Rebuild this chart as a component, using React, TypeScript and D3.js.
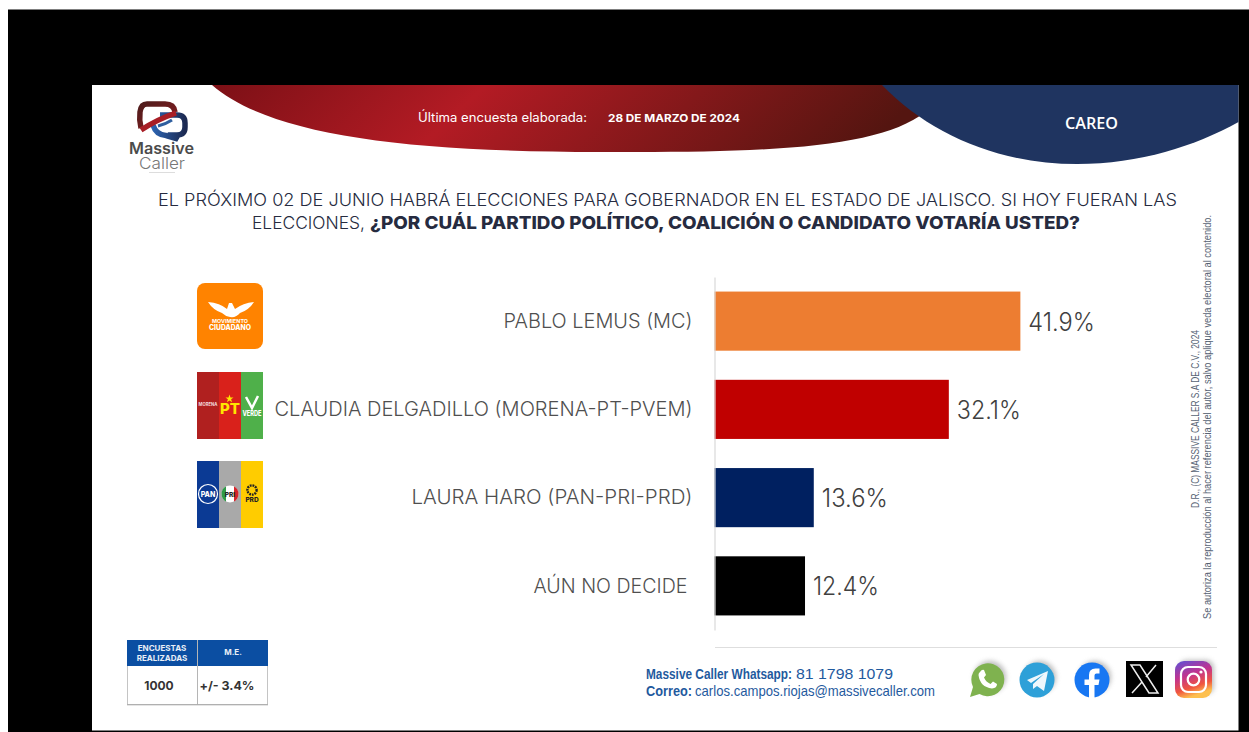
import React, { useEffect, useRef } from "react";
import * as d3 from "d3";

const categories = [
  "PABLO LEMUS (MC)",
  "CLAUDIA DELGADILLO (MORENA-PT-PVEM)",
  "LAURA HARO (PAN-PRI-PRD)",
  "AÚN NO DECIDE",
];
const values = [41.9, 32.1, 13.6, 12.4];
const barColors = ["#ed7d31", "#c00000", "#002060", "#000000"];
const labelWidths = [189, 418, 281, 154];
const labelShift = [0, 0, 0, -5];
const valueWidths = [66.5, 64, 66, 66];

const FONT = "Inter, 'Noto Sans', sans-serif";

const x = d3.scaleLinear().domain([0, 50]).range([714.5, 1079.5]);
const y = d3.scaleBand<string>().domain(categories).range([277, 630]).paddingInner(0.33).paddingOuter(0.165);

function Axis() {
  const ref = useRef<SVGGElement>(null);
  useEffect(() => {
    const g = d3.select(ref.current);
    g.call(d3.axisLeft(y).tickSize(0).tickPadding(22) as any);
    g.select(".domain").attr("stroke", "#d9d9d9").attr("stroke-width", 1.2);
    g.selectAll<SVGTextElement, string>(".tick text")
      .attr("font-family", FONT)
      .attr("font-size", 19.5)
      .attr("font-weight", 300)
      .attr("fill", "#4f4f4f")
      .attr("x", (_, i) => -22 + labelShift[i])
      .attr("y", 0.5)
      .attr("textLength", (_, i) => labelWidths[i])
      .attr("lengthAdjust", "spacingAndGlyphs");
  }, []);
  return <g ref={ref} transform="translate(714.5,0)" />;
}

function Header() {
  return (
    <g>
      <path d="M212,85 C268,134 400,152 600,152 C770,153 880,148 925,112 L885,85 Z" fill="url(#redGrad)" />
      <path d="M882,85 C930,135 1000,164 1077,164 C1140,164 1195,146 1238.5,122 L1238.5,85 Z" fill="#1f3460" />
      <text x={418} y={122} fill="#fff" fontFamily={FONT} fontSize={12.5} textLength={169} lengthAdjust="spacingAndGlyphs">Última encuesta elaborada:</text>
      <text x={608} y={122} fill="#fff" fontFamily={FONT} fontWeight={700} fontSize={11} textLength={132} lengthAdjust="spacingAndGlyphs">28 DE MARZO DE 2024</text>
      <text x={1065} y={129} fill="#fff" fontFamily="'Open Sans', sans-serif" fontWeight={600} fontSize={16} textLength={53} lengthAdjust="spacingAndGlyphs">CAREO</text>
    </g>
  );
}

function Logo() {
  return (
    <g fill="none">
      <path d="M147,104 H165 Q174,104 175,112 M141,128 Q139,120 140,112 Q141,104 147,104" stroke="url(#logoRed)" strokeWidth={5.5} />
      <path d="M160,115 H177 Q185,115 185,123 V127 Q185,135 177,135 H174 L178,139 L166,135.5 Q156,135 153,125" stroke="url(#logoBlue)" strokeWidth={5.5} />
      <path d="M141,130 Q158,119 176,113" stroke="#a81e26" strokeWidth={5.5} />
      <path d="M158,126 Q166,124 172,120" stroke="#2f5f9f" strokeWidth={3} />
      <text x={129} y={154} fill="#4b4b4b" fontFamily={FONT} fontWeight={600} fontSize={15.5} textLength={65} lengthAdjust="spacingAndGlyphs">Massive</text>
      <text x={139} y={169} fill="#777" fontFamily={FONT} fontWeight={300} fontSize={16.5} textLength={46} lengthAdjust="spacingAndGlyphs">Caller</text>
      <line x1={149} x2={175} y1={172.5} y2={172.5} stroke="#ddd" strokeWidth={1} />
    </g>
  );
}

function Question() {
  const c = "#262b40";
  return (
    <g fontFamily={FONT} fontSize={17.5} fill={c}>
      <text x={158} y={206} fontWeight={300} textLength={1019} lengthAdjust="spacingAndGlyphs">EL PRÓXIMO 02 DE JUNIO HABRÁ ELECCIONES PARA GOBERNADOR EN EL ESTADO DE JALISCO. SI HOY FUERAN LAS</text>
      <text x={252} y={229} fontWeight={300} textLength={113} lengthAdjust="spacingAndGlyphs">ELECCIONES,</text>
      <text x={370} y={229} fontWeight={800} textLength={710} lengthAdjust="spacingAndGlyphs">¿POR CUÁL PARTIDO POLÍTICO, COALICIÓN O CANDIDATO VOTARÍA USTED?</text>
    </g>
  );
}

function PartyTiles() {
  return (
    <g fontFamily={FONT}>
      <rect x={197} y={283} width={66} height={66} rx={8} fill="#ff8300" />
      <path d="M208,302 Q220,303 227,309 L229,303 L232,303 L235,309 Q243,303 254,302 Q249,310 240,313 Q236,318 230,317 Q225,316 222,313 Q213,310 208,302 Z" fill="#fff" />
      <text x={230} y={322.5} textAnchor="middle" fill="#fff" fontSize={5} fontWeight={700} textLength={36} lengthAdjust="spacingAndGlyphs">MOVIMIENTO</text>
      <text x={230} y={329.5} textAnchor="middle" fill="#fff" fontSize={7} fontWeight={800} textLength={42} lengthAdjust="spacingAndGlyphs">CIUDADANO</text>

      <rect x={197} y={372} width={22} height={67} fill="#b0201f" />
      <rect x={219} y={372} width={22} height={67} fill="#d9211b" />
      <rect x={241} y={372} width={22} height={67} fill="#4fb04a" />
      <text x={208} y={406} textAnchor="middle" fill="#f3dcdc" fontSize={5} fontWeight={700} textLength={19} lengthAdjust="spacingAndGlyphs">MORENA</text>
      <path d="M229.5,394.5 l1,3 h3 l-2.4,1.8 l1,3 l-2.6,-1.9 l-2.6,1.9 l1,-3 l-2.4,-1.8 h3 Z" fill="#ffe600" />
      <text x={230} y={414} textAnchor="middle" fill="#ffe600" fontSize={15} fontWeight={800}>PT</text>
      <path d="M246,397 L252,408 L258,396" stroke="#fff" strokeWidth={2.5} fill="none" />
      <text x={252} y={416} textAnchor="middle" fill="#fff" fontSize={7.5} fontWeight={800} textLength={19} lengthAdjust="spacingAndGlyphs">VERDE</text>

      <rect x={197} y={461} width={22} height={67} fill="#0b3a94" />
      <rect x={219} y={461} width={22} height={67} fill="#a9a9a9" />
      <rect x={241} y={461} width={22} height={67} fill="#ffcc00" />
      <circle cx={208} cy={494} r={9.5} fill="#0b3a94" stroke="#fff" strokeWidth={1.2} />
      <text x={208} y={497} textAnchor="middle" fill="#fff" fontSize={7} fontWeight={800}>PAN</text>
      <circle cx={230} cy={494} r={8.5} fill="#fff" />
      <path d="M226,486.5 A8.5,8.5 0 0 0 226,501.5 Z" fill="#2e9b47" />
      <path d="M234,486.5 A8.5,8.5 0 0 1 234,501.5 Z" fill="#d7232b" />
      <text x={230} y={496.5} textAnchor="middle" fill="#222" fontSize={6.5} fontWeight={800}>PRI</text>
      <circle cx={252} cy={490} r={4.6} fill="none" stroke="#222" strokeWidth={2.4} strokeDasharray="1.8 0.9" />
      <text x={252} y={502} textAnchor="middle" fill="#222" fontSize={6.5} fontWeight={800}>PRD</text>
    </g>
  );
}

function Bars() {
  return (
    <g>
      {categories.map((c, i) => (
        <g key={c}>
          <rect x={x(0)} y={y(c)} width={x(values[i]) - x(0)} height={y.bandwidth()} fill={barColors[i]} />
          <text
            x={x(values[i]) + 8}
            y={(y(c) as number) + y.bandwidth() / 2 + 9.5}
            fontFamily={FONT}
            fontWeight={300}
            fontSize={25}
            fill="#404040"
            textLength={valueWidths[i]}
            lengthAdjust="spacingAndGlyphs"
          >
            {values[i].toFixed(1)}%
          </text>
        </g>
      ))}
    </g>
  );
}

function SampleTable() {
  return (
    <g fontFamily={FONT} textAnchor="middle">
      <rect x={127.5} y={640.5} width={140} height={64} fill="#fff" stroke="#c4c4c4" />
      <rect x={127} y={640} width={141} height={26} fill="#0b4ea2" />
      <line x1={197.5} x2={197.5} y1={640} y2={705} stroke="#b5b5b5" />
      <line x1={127} x2={268} y1={704.8} y2={704.8} stroke="#a8a8a8" />
      <text x={162} y={651} fill="#e9eef7" fontSize={8} fontWeight={700}>ENCUESTAS</text>
      <text x={162} y={661} fill="#e9eef7" fontSize={8} fontWeight={700}>REALIZADAS</text>
      <text x={233} y={655} fill="#e9eef7" fontSize={8} fontWeight={700}>M.E.</text>
      <text x={159} y={689.5} fill="#333" fontSize={12} fontWeight={700}>1000</text>
      <text x={227} y={689.5} fill="#333" fontSize={12} fontWeight={700} textLength={55} lengthAdjust="spacingAndGlyphs">+/- 3.4%</text>
    </g>
  );
}

function Contact() {
  const font = "'Liberation Sans Narrow', 'Liberation Sans', Arial, sans-serif";
  return (
    <g fontFamily={font} fontSize={15} fill="#1f5a9e">
      <line x1={715} x2={1217} y1={647.5} y2={647.5} stroke="#dedede" strokeWidth={1} />
      <text x={646} y={679} fontWeight={700} textLength={146} lengthAdjust="spacingAndGlyphs">Massive Caller Whatsapp:</text>
      <text x={796} y={679} textLength={97} lengthAdjust="spacingAndGlyphs">81 1798 1079</text>
      <text x={646} y={696} fontWeight={700} textLength={46} lengthAdjust="spacingAndGlyphs">Correo:</text>
      <text x={695} y={696} textLength={240} lengthAdjust="spacingAndGlyphs">carlos.campos.riojas@massivecaller.com</text>
    </g>
  );
}

function SocialIcons() {
  return (
    <g>
      <g filter="url(#blur)" fill="#9a9a9a" opacity={0.65}>
        <circle cx={990} cy={677} r={16} />
        <circle cx={1040} cy={677} r={16} />
        <circle cx={1095} cy={677} r={16} />
        <rect x={1179} y={660} width={35} height={34} rx={8} />
      </g>
      <path d="M970,697 L973,687 A16.5,16.5 0 1 1 979.5,694 Z" fill="#7fb24f" />
      <path d="M980,672 Q982,669 984,670 L986,675 L984,677.5 Q986,682 990.5,684 L993,681.5 L997,684 Q997,688 992,688.5 Q980,687 978.5,675 Q978.5,673 980,672 Z" fill="#fff" />
      <circle cx={1037} cy={680} r={17.5} fill="#2ea0d8" />
      <path d="M1027,680 L1048,671 L1044,691 L1037,686 L1033,689 L1033,684 L1044,674 L1031,683 Z" fill="#eef7fc" />
      <circle cx={1092} cy={680} r={17.5} fill="#1877f2" />
      <path d="M1089,698 V685 H1084.5 V679.5 H1089 V675 Q1089,668.5 1095.5,668.5 H1099.5 V673.5 H1096.5 Q1094.5,673.5 1094.5,675.5 V679.5 H1099.5 L1098.5,685 H1094.5 V698 Z" fill="#fff" />
      <rect x={1126} y={661} width={37} height={36} fill="#000" />
      <path d="M1131,665 H1140 L1158,693 H1149 Z" fill="none" stroke="#eee" strokeWidth={1.5} />
      <path d="M1156,665 L1146,677 M1142,682 L1132,693" stroke="#eee" strokeWidth={1.5} />
      <rect x={1175} y={661} width={37} height={37} rx={9} fill="url(#insta)" />
      <rect x={1181} y={667} width={25} height={25} rx={7} fill="none" stroke="#fff" strokeWidth={2.2} />
      <circle cx={1193.5} cy={679.5} r={5.8} fill="none" stroke="#fff" strokeWidth={2.2} />
      <circle cx={1201} cy={672} r={1.6} fill="#fff" />
    </g>
  );
}

function Disclaimer() {
  const font = "'Liberation Sans Narrow', 'Liberation Sans', Arial, sans-serif";
  return (
    <g fontFamily={font} fontSize={10} fill="#566273">
      <text transform="translate(1199,508) rotate(-90)" textLength={178} lengthAdjust="spacingAndGlyphs">D.R., (C) MASSIVE CALLER S.A DE C.V., 2024</text>
      <text transform="translate(1211,619) rotate(-90)" textLength={404} lengthAdjust="spacingAndGlyphs">Se autoriza la reproducción al hacer referencia del autor, salvo aplique veda electoral al contenido.</text>
    </g>
  );
}

export default function App() {
  return (
    <svg
      width={1249}
      height={732}
      viewBox="0 0 1249 732"
      style={{ position: "absolute", left: 0, top: 0, display: "block" }}
    >
      <defs>
        <linearGradient id="redGrad" x1="0" x2="1" y1="0" y2="0.1">
          <stop offset="0" stopColor="#7c1016" />
          <stop offset="0.38" stopColor="#b31b24" />
          <stop offset="1" stopColor="#541510" />
        </linearGradient>
        <linearGradient id="logoRed" x1="0" x2="1" y1="0" y2="1">
          <stop offset="0" stopColor="#4f1c1c" />
          <stop offset="1" stopColor="#8a1c20" />
        </linearGradient>
        <linearGradient id="logoBlue" x1="0" x2="1" y1="0" y2="0">
          <stop offset="0" stopColor="#2c63b0" />
          <stop offset="1" stopColor="#1c2a52" />
        </linearGradient>
        <linearGradient id="insta" x1="0" x2="0.35" y1="0" y2="1">
          <stop offset="0" stopColor="#5b51d8" />
          <stop offset="0.45" stopColor="#c1338f" />
          <stop offset="0.78" stopColor="#f0563f" />
          <stop offset="1" stopColor="#fdc04f" />
        </linearGradient>
        <filter id="blur" x="-30%" y="-30%" width="160%" height="160%">
          <feGaussianBlur stdDeviation="2.5" />
        </filter>
      </defs>
      <rect x={0} y={0} width={1249} height={732} fill="#fff" />
      <rect x={8} y={9.5} width={1241} height={722.5} fill="#000" />
      <rect x={92} y={85} width={1146.5} height={645.5} fill="#fff" />
      <Header />
      <Logo />
      <Question />
      <PartyTiles />
      <Bars />
      <Axis />
      <SampleTable />
      <Contact />
      <SocialIcons />
      <Disclaimer />
    </svg>
  );
}
